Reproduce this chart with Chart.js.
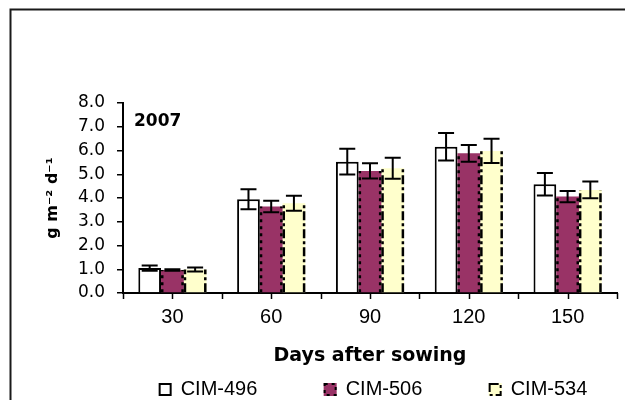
<!DOCTYPE html>
<html>
<head>
<meta charset="utf-8">
<script src="https://cdn.jsdelivr.net/npm/chart.js@4.4.0/dist/chart.umd.min.js"></script>
<style>
  html, body { margin: 0; padding: 0; background: #fff; }
  #wrap { width: 625px; height: 400px; }
</style>
</head>
<body>
<div id="wrap"><canvas id="growthChart"></canvas></div>
<script>
const DAYS = ['30', '60', '90', '120', '150'];
const Y_TICKS = [0, 1, 2, 3, 4, 5, 6, 7, 8];

// crop growth rate, g m-2 d-1, with standard errors
const CIM_496 = [1.05, 3.95, 5.53, 6.16, 4.58];
const CIM_496_ERR = [0.11, 0.42, 0.54, 0.58, 0.47];
const CIM_506 = [0.97, 3.64, 5.14, 5.88, 4.06];
const CIM_506_ERR = [0.03, 0.24, 0.32, 0.35, 0.24];
const CIM_534 = [0.99, 3.78, 5.25, 5.98, 4.34];
const CIM_534_ERR = [0.08, 0.32, 0.44, 0.51, 0.35];

const YEAR_LABEL = '2007';

const canvas = document.getElementById('growthChart');

// white background plus the outer frame (left and top edges)
const framePlugin = {
  id: 'frame',
  beforeDraw(chart) {
    const { ctx, width, height } = chart;
    ctx.save();
    ctx.fillStyle = '#fff';
    ctx.fillRect(0, 0, width, height);
    ctx.strokeStyle = '#1a1a1a';
    ctx.lineWidth = 2;
    ctx.beginPath();
    ctx.moveTo(10.5, height);
    ctx.lineTo(10.5, 9.5);
    ctx.lineTo(width, 9.5);
    ctx.stroke();
    ctx.restore();
  },
};

// dashed side lines on bars and the error bars on top of everything
const barDecorPlugin = {
  id: 'barDecor',
  afterDatasetsDraw(chart) {
    const { ctx } = chart;
    const yScale = chart.scales.y;
    ctx.save();

    chart.data.datasets.forEach((ds, i) => {
      if (!ds.sideDash) return;
      const meta = chart.getDatasetMeta(i);
      meta.data.forEach((bar) => {
        const { x, y, base, width } = bar.getProps(['x', 'y', 'base', 'width'], true);
        ctx.strokeStyle = '#000';
        ctx.lineWidth = 2.5;
        ctx.setLineDash(ds.sideDash);
        [x - width / 2 + 1.2, x + width / 2 - 1.2].forEach((sx) => {
          ctx.beginPath();
          ctx.moveTo(sx, base);
          ctx.lineTo(sx, y);
          ctx.stroke();
        });
      });
    });

    ctx.setLineDash([]);
    ctx.strokeStyle = '#000';
    ctx.lineWidth = 2;
    chart.data.datasets.forEach((ds, i) => {
      const meta = chart.getDatasetMeta(i);
      meta.data.forEach((bar, j) => {
        const x = bar.x;
        const hi = yScale.getPixelForValue(ds.data[j] + ds.errors[j]);
        const lo = yScale.getPixelForValue(ds.data[j] - ds.errors[j]);
        ctx.beginPath();
        ctx.moveTo(x, hi);
        ctx.lineTo(x, lo);
        ctx.moveTo(x - 8, hi);
        ctx.lineTo(x + 8, hi);
        ctx.moveTo(x - 8, lo);
        ctx.lineTo(x + 8, lo);
        ctx.stroke();
      });
    });
    ctx.restore();
  },
};

// tick marks on the category axis: at group boundaries and group centres
const xTickPlugin = {
  id: 'xTicks',
  afterDraw(chart) {
    const { ctx } = chart;
    const xScale = chart.scales.x;
    const half = (xScale.getPixelForValue(1) - xScale.getPixelForValue(0)) / 2;
    const top = xScale.top;
    ctx.save();
    ctx.strokeStyle = '#000';
    ctx.lineWidth = 1.5;
    ctx.beginPath();
    DAYS.forEach((d, i) => {
      const cx = xScale.getPixelForValue(i);
      [cx - half, cx].forEach((px) => {
        ctx.moveTo(Math.round(px) + 0.5, top);
        ctx.lineTo(Math.round(px) + 0.5, top + 6);
      });
    });
    const last = xScale.getPixelForValue(DAYS.length - 1) + half;
    ctx.moveTo(Math.round(last) + 0.5, top);
    ctx.lineTo(Math.round(last) + 0.5, top + 6);
    ctx.stroke();

    // year label in the upper left of the plot
    ctx.fillStyle = '#000';
    ctx.font = 'bold 17px "DejaVu Sans"';
    ctx.textBaseline = 'alphabetic';
    ctx.fillText(YEAR_LABEL, chart.chartArea.left + 11, chart.chartArea.top + 23);
    ctx.restore();
  },
};

// legend row under the axis title
const legendRowPlugin = {
  id: 'legendRow',
  afterDraw(chart) {
    const { ctx, chartArea } = chart;
    const spacing = 165;
    const box = 13;
    ctx.save();
    ctx.font = '20px "Liberation Sans"';
    const lastW = ctx.measureText(chart.data.datasets[2].label).width;
    const total = spacing * 2 + box + 9 + lastW;
    let x = (chartArea.left + chartArea.right) / 2 - total / 2 + 3;
    const y = 383;
    chart.data.datasets.forEach((ds) => {
      ctx.fillStyle = ds.backgroundColor;
      ctx.fillRect(x, y, box, box);
      ctx.strokeStyle = '#000';
      ctx.lineWidth = 2;
      ctx.setLineDash(ds.sideDash || []);
      ctx.strokeRect(x + 1, y + 1, box - 2, box - 2);
      ctx.setLineDash([]);
      ctx.fillStyle = '#000';
      ctx.textBaseline = 'alphabetic';
      ctx.fillText(ds.label, x + box + 9, 395);
      x += spacing;
    });
    ctx.restore();
  },
};

new Chart(canvas, {
  type: 'bar',
  data: {
    labels: DAYS,
    datasets: [
      {
        label: 'CIM-496',
        data: CIM_496,
        errors: CIM_496_ERR,
        backgroundColor: '#ffffff',
        borderColor: '#000000',
        borderWidth: 2,
      },
      {
        label: 'CIM-506',
        data: CIM_506,
        errors: CIM_506_ERR,
        backgroundColor: '#993366',
        borderWidth: 0,
        sideDash: [3, 4],
      },
      {
        label: 'CIM-534',
        data: CIM_534,
        errors: CIM_534_ERR,
        backgroundColor: '#ffffcc',
        borderWidth: 0,
        sideDash: [9, 3, 3, 3],
      },
    ],
  },
  options: {
    responsive: true,
    maintainAspectRatio: false,
    animation: false,
    layout: {
      padding: { top: 103, left: 10, right: 8, bottom: 0 },
    },
    datasets: {
      bar: {
        barPercentage: 1,
        categoryPercentage: 0.69,
      },
    },
    scales: {
      x: {
        grid: { display: false, drawTicks: false },
        border: { display: true, color: '#000', width: 2 },
        ticks: {
          color: '#000',
          padding: 12,
          font: { family: 'Liberation Sans', size: 20 },
        },
        title: {
          display: true,
          text: 'Days after sowing',
          color: '#000',
          padding: { top: 0, bottom: 33 },
          font: { family: 'DejaVu Sans', size: 19, weight: 'bold' },
        },
        afterFit(scale) {
          scale.height = 107;
        },
      },
      y: {
        min: 0,
        max: 8,
        afterBuildTicks(scale) {
          scale.ticks = Y_TICKS.map((v) => ({ value: v }));
        },
        grid: {
          drawOnChartArea: false,
          drawTicks: true,
          tickLength: 6,
          color: '#000',
          lineWidth: 1.5,
        },
        border: { display: true, color: '#000', width: 2 },
        ticks: {
          color: '#000',
          padding: 12,
          font: { family: 'DejaVu Sans', size: 17 },
          callback: (v) => Number(v).toFixed(1),
        },
        title: {
          display: true,
          text: 'g m\u207B\u00B2 d\u207B\u00B9',
          color: '#000',
          padding: { top: 33, bottom: 0 },
          font: { family: 'DejaVu Sans', size: 16, weight: 'bold' },
        },
        afterFit(scale) {
          scale.width = 113;
        },
      },
    },
    plugins: {
      legend: { display: false },
      tooltip: { enabled: false },
    },
  },
  plugins: [framePlugin, barDecorPlugin, xTickPlugin, legendRowPlugin],
});
</script>
</body>
</html>
